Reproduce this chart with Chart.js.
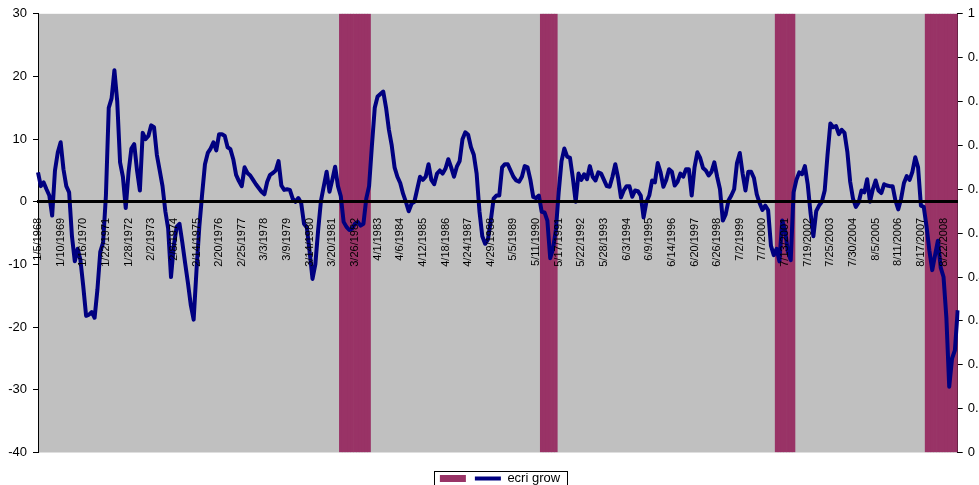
<!DOCTYPE html>
<html>
<head>
<meta charset="utf-8">
<title>ecri grow</title>
<script src="https://cdn.jsdelivr.net/npm/chart.js@4.4.1/dist/chart.umd.min.js"></script>
<style>
    html, body { margin: 0; padding: 0; background: #fff; overflow: hidden; }
    #caja { position: relative; width: 1000px; height: 495px; }
</style>
</head>
<body>
<div id="caja"><canvas id="grafico"></canvas></div>
<script>
// one label every 53 weeks
const tickLabels = ["1/5/1968", "1/10/1969", "1/16/1970", "1/22/1971", "1/28/1972", "2/2/1973",
    "2/8/1974", "2/14/1975", "2/20/1976", "2/25/1977", "3/3/1978", "3/9/1979", "3/14/1980",
    "3/20/1981", "3/26/1982", "4/1/1983", "4/6/1984", "4/12/1985", "4/18/1986", "4/24/1987",
    "4/29/1988", "5/5/1989", "5/11/1990", "5/17/1991", "5/22/1992", "5/28/1993", "6/3/1994",
    "6/9/1995", "6/14/1996", "6/20/1997", "6/26/1998", "7/2/1999", "7/7/2000", "7/13/2001",
    "7/19/2002", "7/25/2003", "7/30/2004", "8/5/2005", "8/11/2006", "8/17/2007", "8/22/2008"];
const samplesPerTick = 8;

// ecri growth (8 readings per label step)
const growth = [
    4.7, 2.5, 3.1, 2.0, 1.0, -2.2, 5.0, 7.9, 9.5, 5.2,
    2.5, 1.5, -5.5, -9.5, -7.5, -9.3, -13.5, -18.2, -18.0, -17.6,
    -18.5, -14.0, -8.0, -6.5, 1.0, 15.0, 16.5, 21.0, 16.0, 6.3,
    4.0, -1.0, 4.7, 8.5, 9.2, 5.0, 1.8, 11.0, 10.0, 10.5,
    12.2, 11.9, 7.5, 5.0, 2.5, -1.5, -4.3, -12.0, -7.0, -4.0,
    -3.5, -6.5, -9.8, -13.0, -16.5, -18.8, -11.0, -4.0, 1.2, 6.0,
    7.8, 8.5, 9.5, 8.2, 10.8, 10.8, 10.5, 8.7, 8.4, 6.8,
    4.3, 3.3, 2.5, 5.5, 4.6, 4.2, 3.5, 2.8, 2.2, 1.6,
    1.2, 3.2, 4.3, 4.6, 5.0, 6.5, 2.6, 1.9, 2.0, 1.9,
    0.5, 0.0, 0.6, -0.2, -3.5, -4.1, -8.0, -12.3, -10.0, -4.5,
    0.2, 2.5, 4.8, 1.6, 3.5, 5.6, 2.5, 0.9, -3.2, -4.0,
    -4.5, -4.3, -3.5, -3.2, -3.8, -3.5, 0.5, 2.5, 9.0, 15.0,
    16.8, 17.2, 17.6, 15.0, 11.5, 9.0, 5.5, 4.0, 3.0, 1.3,
    0.0, -1.5, -0.3, 0.0, 2.0, 4.0, 3.5, 4.0, 6.0, 3.5,
    2.8, 4.5, 5.0, 4.5, 5.3, 6.8, 5.5, 4.0, 5.6, 6.5,
    10.0, 11.1, 10.7, 8.7, 7.5, 4.5, -1.5, -5.5, -6.7, -6.0,
    -3.0, 0.5, 1.0, 1.0, 5.5, 6.0, 6.0, 5.0, 4.0, 3.4,
    3.2, 4.0, 5.7, 5.5, 3.5, 0.8, 0.6, 1.0, -1.6, -1.7,
    -3.0, -9.0, -7.5, -4.5, 1.5, 6.5, 8.5, 7.2, 7.0, 3.8,
    0.0, 4.5, 3.5, 4.4, 3.6, 5.7, 4.0, 3.4, 4.7, 4.5,
    3.5, 2.5, 2.4, 4.0, 6.0, 3.8, 0.7, 1.8, 2.5, 2.5,
    0.8, 1.8, 1.7, 1.0, -2.5, 0.0, 1.0, 3.4, 3.1, 6.2,
    4.7, 2.4, 3.5, 5.2, 4.8, 2.6, 3.2, 4.5, 4.0, 5.2,
    5.2, 1.0, 5.5, 7.9, 7.0, 5.4, 5.0, 4.2, 4.8, 6.3,
    4.0, 2.0, -3.0, -2.0, 0.2, 1.0, 2.0, 6.2, 7.8, 4.5,
    1.8, 4.8, 4.8, 3.8, 1.2, -0.2, -1.3, -0.6, -1.3, -7.0,
    -8.5, -7.5, -9.5, -3.0, -4.5, -8.0, -9.3, 1.5, 3.5, 4.7,
    4.4, 5.7, 2.8, -1.8, -5.5, -1.5, -0.6, 0.0, 1.8, 7.5,
    12.5, 11.9, 12.1, 10.8, 11.5, 11.0, 8.0, 3.2, 0.5, -0.8,
    -0.1, 1.8, 1.5, 3.6, 0.0, 2.0, 3.4, 1.8, 1.4, 2.8,
    2.6, 2.5, 2.5, 0.2, -1.2, 0.5, 3.0, 4.1, 3.5, 4.8,
    7.1, 5.5, -0.6, -0.8, -4.0, -7.8, -10.9, -8.5, -6.2, -10.5,
    -12.0, -18.5, -29.5, -25.0, -23.7, -17.3
];

// shaded recessions, first and last reading
const recessions = [[107, 117], [178, 183], [261, 267], [314, 325]];
const seriesName = 'ecri grow';

function buildLabels() {
    return growth.map(function(v, i) {
        return i % samplesPerTick === 0 ? tickLabels[i / samplesPerTick] : '';
    });
}

function buildBars() {
    return growth.map(function(v, i) {
        let inside = recessions.some(function(r) { return i >= r[0] && i <= r[1]; });
        return inside ? 1 : null;
    });
}

// gray plot area
const plotBackground = {
    id: 'plotBackground',
    beforeDraw(chart) {
        const a = chart.chartArea;
        const ctx = chart.ctx;
        ctx.save();
        ctx.fillStyle = '#c0c0c0';
        ctx.fillRect(a.left, a.top, a.right - a.left, a.bottom - a.top);
        ctx.restore();
    }
};

// thin frame round the legend like excel does
const legendFrame = {
    id: 'legendFrame',
    afterDraw(chart) {
        const boxes = chart.legend && chart.legend.legendHitBoxes;
        if (!boxes || !boxes.length) return;
        const first = boxes[0];
        const last = boxes[boxes.length - 1];
        const left = Math.round(first.left - 5.5) + 0.5;
        const right = Math.round(last.left + last.width + 7) + 0.5;
        const top = Math.round(first.top - 1.5) + 0.5;
        const ctx = chart.ctx;
        ctx.save();
        ctx.strokeStyle = '#000';
        ctx.lineWidth = 1;
        ctx.strokeRect(left, top, right - left, 40);
        ctx.restore();
    }
};

document.addEventListener('DOMContentLoaded', function() {
    Chart.defaults.font.family = '"Liberation Sans", Arial, sans-serif';
    Chart.defaults.color = '#000';

    let box = document.getElementById('grafico');
    const axisTicks = { drawOnChartArea: false, tickLength: 5, color: '#000', lineWidth: 1 };

    new Chart(box, {
        type: 'line',
        data: {
            labels: buildLabels(),
            datasets: [{
                type: 'bar',
                label: '',
                data: buildBars(),
                yAxisID: 'y2',
                backgroundColor: '#993366',
                borderWidth: 0,
                barPercentage: 1,
                categoryPercentage: 1,
                pointStyle: 'rect',
                order: 1
            }, {
                type: 'line',
                label: seriesName,
                data: growth,
                yAxisID: 'y',
                borderColor: '#000080',
                backgroundColor: '#000080',
                borderWidth: 4,
                borderJoinStyle: 'round',
                pointRadius: 0,
                tension: 0,
                pointStyle: 'line',
                order: 0
            }]
        },
        options: {
            responsive: true,
            maintainAspectRatio: false,
            animation: false,
            layout: { padding: { top: 13, left: 0, right: 0, bottom: 0 } },
            plugins: {
                tooltip: { enabled: false },
                legend: {
                    position: 'bottom',
                    title: { display: true, text: '', padding: { top: 5, bottom: 0 }, font: { size: 10 } },
                    labels: {
                        usePointStyle: true,
                        pointStyleWidth: 26,
                        boxHeight: 7,
                        padding: 2.5,
                        color: '#000',
                        font: { size: 13 },
                        sort: function(a, b) { return a.datasetIndex - b.datasetIndex; }
                    }
                }
            },
            scales: {
                x: {
                    type: 'category',
                    position: { y: 0 },
                    offset: false,
                    grid: { display: false, offset: false },
                    border: { display: true, color: '#000', width: 3, z: 1 },
                    ticks: { autoSkip: false, minRotation: 90, maxRotation: 90, padding: 8,
                             color: '#000', font: { size: 11 }, z: 1 }
                },
                y: {
                    position: 'left',
                    min: -40,
                    max: 30,
                    ticks: { stepSize: 10, padding: 6, color: '#000', font: { size: 13 } },
                    grid: axisTicks,
                    border: { color: '#000', width: 1 },
                    afterFit: function(s) { s.width = 38; }
                },
                y2: {
                    position: 'right',
                    min: 0,
                    max: 1,
                    ticks: {
                        stepSize: 0.1, padding: 5, color: '#000', font: { size: 13 },
                        callback: function(value) { return String(Math.round(value * 10) / 10); }
                    },
                    grid: axisTicks,
                    border: { color: '#000', width: 1 },
                    afterFit: function(s) { s.width = 42.3; }
                }
            }
        },
        plugins: [plotBackground, legendFrame]
    });
});
</script>
</body>
</html>
